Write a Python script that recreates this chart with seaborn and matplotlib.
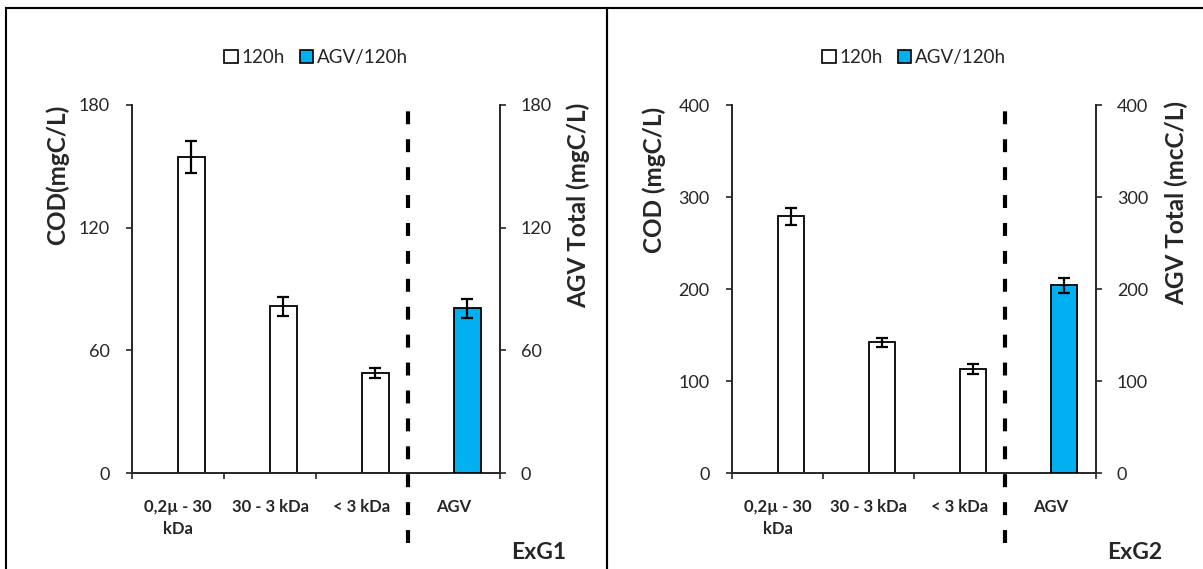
import matplotlib
matplotlib.use("Agg")
import numpy as np
import pandas as pd
import matplotlib.pyplot as plt
import matplotlib.transforms as mtransforms
from matplotlib.patches import Patch, Rectangle
import seaborn as sns

# ---------------- data ----------------
categories = ["0,2µ - 30\nkDa", "30 - 3 kDa", "< 3 kDa", "AGV"]
fraction_cats = categories[:3]
agv_cats = categories[3:]

series_names = ["120h", "AGV/120h"]
series_colors = ["white", "#00B0F0"]

exg1_cod = [154.5, 81.5, 48.8]
exg1_cod_err = [8.0, 4.5, 2.5]
exg1_agv = [80.5]
exg1_agv_err = [4.5]

exg2_cod = [279.0, 142.0, 113.0]
exg2_cod_err = [9.0, 5.0, 5.0]
exg2_agv = [204.0]
exg2_agv_err = [8.5]

panel_titles = ["ExG1", "ExG2"]
left_labels = ["COD(mgC/L)", "COD (mgC/L)"]
right_labels = ["AGV Total (mgC/L)", "AGV Total (mcC/L)"]
yticks_exg1 = [0, 60, 120, 180]
yticks_exg2 = [0, 100, 200, 300, 400]

# ---------------- style ----------------
sns.set_style("ticks")
plt.rcParams["font.family"] = ["Lato", "DejaVu Sans"]
plt.rcParams["axes.linewidth"] = 1.4
plt.rcParams["xtick.major.width"] = 1.2
plt.rcParams["ytick.major.width"] = 1.2
plt.rcParams["xtick.minor.width"] = 1.2

fig = plt.figure(figsize=(12.03, 5.69), dpi=100)
W, H = 1203, 569


def px_axes(x0, x1, ytop, ybot):
    return fig.add_axes([x0 / W, (H - ybot) / H, (x1 - x0) / W, (ybot - ytop) / H])


def draw_bars(ax, cats, vals, errs, name, color):
    df = pd.DataFrame({"cat": cats, "val": vals, "slot": [name] * len(cats)})
    n0 = len(ax.patches)
    sns.barplot(data=df, x="cat", y="val", hue="slot", order=categories,
                hue_order=["_pad", name], palette={"_pad": "white", name: color},
                saturation=1, width=0.58, dodge=True, edgecolor="black",
                linewidth=1.3, errorbar=None, legend=False, ax=ax)
    bars = sorted(ax.patches[n0:], key=lambda p: p.get_x())
    xs = [p.get_x() + p.get_width() / 2 for p in bars]
    hs = [p.get_height() for p in bars]
    ax.errorbar(xs, hs, yerr=errs, fmt="none", ecolor="black",
                elinewidth=1.6, capsize=4.5, capthick=1.6, zorder=5)


def panel(ax, cod, cod_err, agv, agv_err, yticks, title, llab, rlab, lab_pos):
    ymax = yticks[-1]
    ax2 = ax.twinx()
    draw_bars(ax, fraction_cats, cod, cod_err, series_names[0], series_colors[0])
    draw_bars(ax2, agv_cats, agv, agv_err, series_names[1], series_colors[1])
    for a in (ax, ax2):
        a.set_ylim(0, ymax)
        a.set_yticks(yticks)
        a.set_xlim(-0.5, len(categories) - 0.5)
        a.set_xlabel("")
    ax.set_yticklabels([str(t) for t in yticks], fontsize=13)
    ax2.set_yticklabels([str(t) for t in yticks], fontsize=13)
    ax.tick_params(axis="y", length=4, direction="out", pad=12)
    ax2.tick_params(axis="y", length=4, direction="out", pad=11)

    ax.set_xticks(range(len(categories)))
    ax.set_xticklabels(categories, fontsize=12, fontweight="bold", linespacing=1.45)
    ax.tick_params(axis="x", which="major", length=0, pad=19)
    ax.set_xticks(np.arange(len(categories) + 1) - 0.5, minor=True)
    ax.tick_params(axis="x", which="minor", length=4, direction="out")

    ax.spines["top"].set_visible(False)
    ax.spines["right"].set_visible(False)
    for s in ("top", "left", "bottom"):
        ax2.spines[s].set_visible(False)
    ax2.spines["right"].set_linewidth(1.4)

    ax.set_ylabel(llab, fontsize=17.5, fontweight="bold")
    ax2.set_ylabel(rlab, fontsize=17.5, fontweight="bold")
    ax.yaxis.set_label_coords(lab_pos[0], lab_pos[1])
    ax2.yaxis.set_label_coords(lab_pos[2], lab_pos[3])

    # separator between fractions and AGV
    trans = mtransforms.blended_transform_factory(ax.transData, ax.transAxes)
    sep = len(fraction_cats) - 0.5
    ax2.plot([sep, sep], [-0.19, 1.0], transform=trans, color="black", lw=3,
             linestyle=(0, (3.1, 3.6)), clip_on=False, zorder=6)

    handles = [Patch(facecolor=c, edgecolor="black", linewidth=1.2) for c in series_colors]
    ax2.legend(handles, series_names, loc="center", bbox_to_anchor=(0.5, 1.13),
               ncol=2, frameon=False, fontsize=13.5, handlelength=0.7,
               handleheight=0.7, handletextpad=0.2, columnspacing=0.8)

    ax.text(1.106, -0.217, title, transform=ax.transAxes, ha="center",
            va="center", fontsize=16.5, fontweight="bold")


ax_a = px_axes(132, 500, 105, 473)
ax_b = px_axes(732, 1096, 105, 473)

panel(ax_a, exg1_cod, exg1_cod_err, exg1_agv, exg1_agv_err, yticks_exg1,
      panel_titles[0], left_labels[0], right_labels[0], (-0.17, 0.81, 1.182, 0.728))
panel(ax_b, exg2_cod, exg2_cod_err, exg2_agv, exg2_agv_err, yticks_exg2,
      panel_titles[1], left_labels[1], right_labels[1], (-0.182, 0.796, 1.19, 0.734))

# panel frames
fig.add_artist(Rectangle((6 / W, -0.1), (607 - 6) / W, (H - 8) / H + 0.1,
                         transform=fig.transFigure, fill=False, lw=1.5,
                         edgecolor="black"))
fig.add_artist(Rectangle((607 / W, -0.1), 0.6, (H - 8) / H + 0.1,
                         transform=fig.transFigure, fill=False, lw=1.5,
                         edgecolor="black"))

fig.savefig("out.png", dpi=100, facecolor="white")
